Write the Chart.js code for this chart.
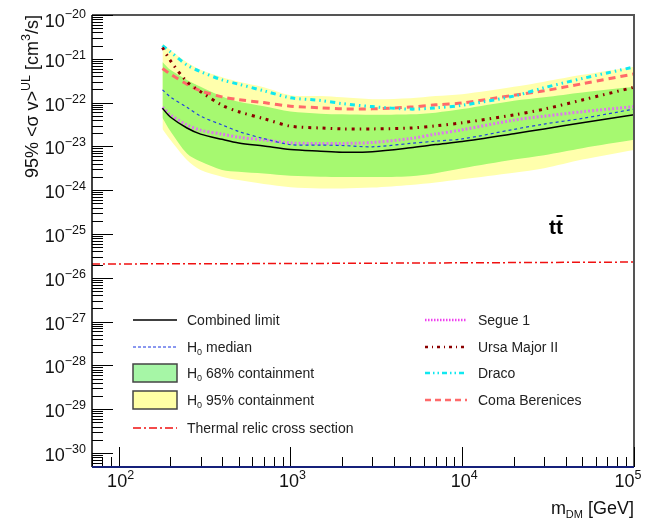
<!DOCTYPE html>
<html>
<head>
<meta charset="utf-8">
<script src="https://cdn.jsdelivr.net/npm/chart.js@4.4.0/dist/chart.umd.min.js"></script>
<style>
  html, body { margin: 0; background: #fff; }
  #wrap { width: 646px; height: 523px; }
</style>
</head>
<body>
<div id="wrap"><canvas id="limits" width="646" height="523"></canvas></div>
<script>
// DM mass grid [GeV]
const massGeV = [180, 200, 250, 300, 400, 500, 700, 1000, 1500, 2000, 3000, 5000, 7000, 10000, 20000, 30000, 50000, 100000];

// 95% UL on <sigma v> [cm^3/s], tt channel
const combinedLimit = [7.4e-23, 4.7e-23, 2.63e-23, 1.91e-23, 1.45e-23, 1.2e-23, 1.02e-23, 8.5e-24, 7.8e-24, 7.4e-24, 7.6e-24, 9.3e-24, 1.1e-23, 1.29e-23, 1.95e-23, 2.51e-23, 3.47e-23, 5.25e-23];
const h0Median = [1.95e-22, 1.35e-22, 7.8e-23, 4.9e-23, 3.1e-23, 2.19e-23, 1.51e-23, 1.1e-23, 1.07e-23, 1.05e-23, 9.8e-24, 1.17e-23, 1.32e-23, 1.48e-23, 2.45e-23, 3.24e-23, 4.37e-23, 7.1e-23];
const segue1 = [7.8e-23, 5.25e-23, 3.1e-23, 2.34e-23, 1.91e-23, 1.62e-23, 1.41e-23, 1.2e-23, 1.17e-23, 1.17e-23, 1.23e-23, 1.51e-23, 1.91e-23, 2.4e-23, 3.98e-23, 4.9e-23, 6.2e-23, 8.1e-23];
const ursaMajorII = [1.82e-21, 9.1e-22, 3.0e-22, 1.78e-22, 8.7e-23, 6.2e-23, 4.3e-23, 2.9e-23, 2.63e-23, 2.51e-23, 2.51e-23, 2.63e-23, 2.95e-23, 3.47e-23, 5.25e-23, 7.1e-23, 1.15e-22, 2.24e-22];
const draco = [2.0e-21, 1.45e-21, 7.2e-22, 5.1e-22, 3.3e-22, 2.63e-22, 1.86e-22, 1.29e-22, 1.12e-22, 9.5e-23, 8.1e-23, 7.1e-23, 7.6e-23, 8.7e-23, 1.41e-22, 2.19e-22, 3.55e-22, 6.5e-22];
const comaBerenices = [6.0e-22, 4.5e-22, 2.63e-22, 1.86e-22, 1.35e-22, 1.17e-22, 1.0e-22, 8.3e-23, 7.6e-23, 7.2e-23, 7.2e-23, 7.9e-23, 8.9e-23, 9.8e-23, 1.48e-22, 1.86e-22, 2.7e-22, 4.5e-22];

// H0 containment bands
const band68Upper = [8.5e-22, 5.6e-22, 3.3e-22, 2.29e-22, 1.38e-22, 1.05e-22, 8.3e-23, 6.3e-23, 5.6e-23, 5.4e-23, 5.25e-23, 5.4e-23, 5.9e-23, 7.1e-23, 1.1e-22, 1.32e-22, 1.7e-22, 2.29e-22];
const band68Lower = [4.5e-23, 2.24e-23, 6.9e-24, 4.5e-24, 2.9e-24, 2.63e-24, 2.4e-24, 2.14e-24, 2.04e-24, 2.0e-24, 2.0e-24, 2.09e-24, 2.45e-24, 3.16e-24, 5.0e-24, 6.3e-24, 9.1e-24, 1.41e-23];
const band95Upper = [2.24e-21, 1.58e-21, 8.3e-22, 5.6e-22, 3.8e-22, 3.0e-22, 2.24e-22, 1.48e-22, 1.41e-22, 1.32e-22, 1.2e-22, 1.26e-22, 1.41e-22, 1.55e-22, 2.29e-22, 3.0e-22, 4.3e-22, 6.6e-22];
const band95Lower = [2.5e-23, 1.41e-23, 4.9e-24, 2.9e-24, 2.04e-24, 1.7e-24, 1.38e-24, 1.17e-24, 1.1e-24, 1.1e-24, 1.15e-24, 1.32e-24, 1.51e-24, 1.78e-24, 2.5e-24, 3.16e-24, 5.0e-24, 8.3e-24];

// thermal relic cross section
const relicMass = [70, 1000, 10000, 100000];
const relicXsec = [2.07e-26, 2.12e-26, 2.2e-26, 2.29e-26];

// axis decades
const xExponents = [2, 3, 4, 5];
const yExponents = [-20, -21, -22, -23, -24, -25, -26, -27, -28, -29, -30];

const FONT = '"Liberation Sans", Arial, sans-serif';
const GREEN = 'rgb(166,249,112)';
const YELLOW = 'rgb(255,255,172)';

function pts(xs, ys) {
    return xs.map((m, i) => ({ x: m, y: ys[i] }));
}

function curve(label, ys, color, width, dash) {
    return {
        label, data: pts(massGeV, ys),
        borderColor: color, borderWidth: width, borderDash: dash,
        fill: false, pointRadius: 0, tension: 0.3
    };
}

function bandEdge(ys, color) {
    return {
        data: pts(massGeV, ys),
        borderColor: 'transparent', borderWidth: 0,
        backgroundColor: color || 'transparent',
        fill: color ? '+1' : false, pointRadius: 0, tension: 0.3
    };
}

// superscript helper: base text then raised exponent
function powerText(ctx, x, y, base, exp, bSize, eSize, align) {
    ctx.font = bSize + 'px ' + FONT;
    const bw = ctx.measureText(base).width;
    ctx.font = eSize + 'px ' + FONT;
    const ew = ctx.measureText(exp).width;
    let x0 = x;
    if (align === 'right') x0 = x - bw - ew;
    if (align === 'center') x0 = x - (bw + ew) / 2;
    ctx.textAlign = 'left';
    ctx.font = bSize + 'px ' + FONT;
    ctx.fillText(base, x0, y);
    ctx.font = eSize + 'px ' + FONT;
    ctx.fillText(exp, x0 + bw, y - bSize * 0.45);
    return x0 + bw + ew;
}

function drawLegendLine(ctx, x0, x1, y, color, width, dash) {
    ctx.save();
    ctx.strokeStyle = color;
    ctx.lineWidth = width;
    ctx.setLineDash(dash);
    ctx.beginPath();
    ctx.moveTo(x0, y);
    ctx.lineTo(x1, y);
    ctx.stroke();
    ctx.restore();
}

function drawLegendBox(ctx, x0, x1, y, color) {
    ctx.save();
    ctx.fillStyle = color;
    ctx.fillRect(x0, y - 9, x1 - x0, 18);
    ctx.strokeStyle = '#444';
    ctx.lineWidth = 1.5;
    ctx.strokeRect(x0, y - 9, x1 - x0, 18);
    ctx.restore();
}

// label with an "H0" prefix
function h0Label(ctx, x, y, rest) {
    ctx.textAlign = 'left';
    ctx.font = '14px ' + FONT;
    ctx.fillText('H', x, y);
    const w = ctx.measureText('H').width;
    ctx.font = '9px ' + FONT;
    ctx.fillText('0', x + w, y + 3);
    const zw = ctx.measureText('0').width;
    ctx.font = '14px ' + FONT;
    ctx.fillText(' ' + rest, x + w + zw, y);
}

const framePlugin = {
    id: 'frame',
    afterDraw(chart) {
        const { ctx, chartArea: a, scales } = chart;
        const xs = scales.x, ys = scales.y;
        ctx.save();

        // frame
        ctx.strokeStyle = '#555';
        ctx.lineWidth = 2;
        ctx.beginPath();
        ctx.moveTo(a.left, a.top);
        ctx.lineTo(a.right, a.top);
        ctx.lineTo(a.right, a.bottom);
        ctx.stroke();
        ctx.strokeStyle = '#000';
        ctx.lineWidth = 1.5;
        ctx.beginPath();
        ctx.moveTo(a.left, a.top);
        ctx.lineTo(a.left, a.bottom);
        ctx.stroke();

        // y ticks (inside)
        ctx.strokeStyle = '#000';
        ctx.lineWidth = 1;
        for (let e = -31; e <= -20; e++) {
            for (let k = 1; k <= 9; k++) {
                const v = k * Math.pow(10, e);
                if (v < ys.min * 0.999 || v > ys.max * 1.001) continue;
                const py = Math.round(ys.getPixelForValue(v)) + 0.5;
                const len = k === 1 ? 21 : 11;
                ctx.beginPath();
                ctx.moveTo(a.left, py);
                ctx.lineTo(a.left + len, py);
                ctx.stroke();
            }
        }
        // x ticks (inside)
        for (let e = 1; e <= 5; e++) {
            for (let k = 1; k <= 9; k++) {
                const v = k * Math.pow(10, e);
                if (v < xs.min || v > xs.max * 1.001) continue;
                const px = Math.round(xs.getPixelForValue(v)) + 0.5;
                const len = k === 1 ? 20 : 10;
                ctx.beginPath();
                ctx.moveTo(px, a.bottom);
                ctx.lineTo(px, a.bottom - len);
                ctx.stroke();
            }
        }
        // bottom axis line
        ctx.strokeStyle = '#15207a';
        ctx.lineWidth = 2;
        ctx.beginPath();
        ctx.moveTo(a.left, a.bottom);
        ctx.lineTo(a.right, a.bottom);
        ctx.stroke();

        // tick labels
        ctx.fillStyle = '#111';
        ctx.textBaseline = 'alphabetic';
        yExponents.forEach((e, i) => {
            const py = ys.getPixelForValue(Math.pow(10, e));
            const shift = i === 0 ? 5 : 1.5;
            powerText(ctx, 86, py + shift + 6.5, '10', '\u2212' + Math.abs(e), 18, 12.5, 'right');
        });
        xExponents.forEach(e => {
            const px = xs.getPixelForValue(Math.pow(10, e));
            powerText(ctx, Math.min(px + 2, 628), 487, '10', String(e), 18, 12.5, 'center');
        });

        // x title
        ctx.font = '18px ' + FONT;
        const gev = ' [GeV]';
        const gw = ctx.measureText(gev).width;
        ctx.textAlign = 'right';
        ctx.fillText(gev, 634, 514);
        ctx.font = '11px ' + FONT;
        const dmw = ctx.measureText('DM').width;
        ctx.fillText('DM', 634 - gw, 518);
        ctx.font = '18px ' + FONT;
        ctx.fillText('m', 634 - gw - dmw, 514);

        // y title, rotated, right-aligned at the top of the axis
        ctx.save();
        ctx.translate(38, 15);
        ctx.rotate(-Math.PI / 2);
        const parts = [
            ['95% <\u03c3 v>', 18, 0], ['UL', 12.5, -8], [' [cm', 18, 0], ['3', 12.5, -8], ['/s]', 18, 0]
        ];
        let total = 0;
        parts.forEach(p => { ctx.font = p[1] + 'px ' + FONT; total += ctx.measureText(p[0]).width; });
        let cx = -total;
        ctx.textAlign = 'left';
        parts.forEach(p => {
            ctx.font = p[1] + 'px ' + FONT;
            ctx.fillText(p[0], cx, p[2]);
            cx += ctx.measureText(p[0]).width;
        });
        ctx.restore();

        // channel label
        ctx.font = 'bold 21px ' + FONT;
        ctx.textAlign = 'left';
        ctx.fillStyle = '#000';
        ctx.fillText('tt', 549, 234);
        const tw = ctx.measureText('t').width;
        ctx.fillRect(549 + tw + 0.5, 215, tw - 1, 2);

        // legend, left column
        ctx.fillStyle = '#222';
        const lx0 = 133, lx1 = 177, ltx = 187;
        drawLegendLine(ctx, lx0, lx1, 320, '#000', 1.5, []);
        ctx.font = '14px ' + FONT;
        ctx.textAlign = 'left';
        ctx.fillText('Combined limit', ltx, 325);
        drawLegendLine(ctx, lx0, lx1, 347, '#1530e0', 1, [3, 2]);
        h0Label(ctx, ltx, 352, 'median');
        drawLegendBox(ctx, lx0, lx1, 373, 'rgb(166,246,166)');
        h0Label(ctx, ltx, 378, '68% containment');
        drawLegendBox(ctx, lx0, lx1, 400, 'rgb(255,255,165)');
        h0Label(ctx, ltx, 405, '95% containment');
        drawLegendLine(ctx, lx0, lx1, 428, '#f01010', 1.5, [8, 3, 2, 3]);
        ctx.fillText('Thermal relic cross section', ltx, 433);

        // legend, right column
        const rx0 = 425, rx1 = 467, rtx = 478;
        drawLegendLine(ctx, rx0, rx1, 320, '#f040f0', 2.5, [1.5, 1.5]);
        ctx.fillText('Segue 1', rtx, 325);
        drawLegendLine(ctx, rx0, rx1, 347, '#8b0000', 2.5, [3, 4, 1, 4]);
        ctx.fillText('Ursa Major II', rtx, 352);
        drawLegendLine(ctx, rx0, rx1, 373, '#10e8f0', 2.5, [5, 3, 1.5, 3, 1.5, 3]);
        ctx.fillText('Draco', rtx, 378);
        drawLegendLine(ctx, rx0, rx1, 400, '#ff6a6a', 2.5, [6, 4]);
        ctx.fillText('Coma Berenices', rtx, 405);

        ctx.restore();
    }
};

new Chart(document.getElementById('limits'), {
    type: 'line',
    data: {
        datasets: [
            curve('Combined limit', combinedLimit, '#000', 1.5, []),
            curve('H0 median', h0Median, '#2040e0', 1.2, [3, 3]),
            curve('Segue 1', segue1, '#dd77ee', 3, [2, 2]),
            curve('Ursa Major II', ursaMajorII, '#8b0000', 3, [3, 5, 1.5, 5]),
            curve('Draco', draco, '#10e8f0', 3, [5, 4, 1.5, 4, 1.5, 4]),
            curve('Coma Berenices', comaBerenices, '#ff6a6a', 3, [7, 5]),
            {
                label: 'Thermal relic', data: pts(relicMass, relicXsec),
                borderColor: '#f01010', borderWidth: 1.5, borderDash: [8, 3, 2, 3],
                fill: false, pointRadius: 0, tension: 0
            },
            bandEdge(band68Upper, GREEN),
            bandEdge(band68Lower),
            bandEdge(band95Upper, YELLOW),
            bandEdge(band95Lower)
        ]
    },
    options: {
        responsive: false,
        animation: false,
        devicePixelRatio: 1,
        parsing: true,
        layout: { padding: { left: 92, right: 12, top: 15, bottom: 56 } },
        plugins: { legend: { display: false }, tooltip: { enabled: false } },
        scales: {
            x: { type: 'logarithmic', min: 70, max: 1e5, display: false },
            y: { type: 'logarithmic', min: 4.8e-31, max: 1e-20, display: false }
        }
    },
    plugins: [framePlugin]
});
</script>
</body>
</html>
